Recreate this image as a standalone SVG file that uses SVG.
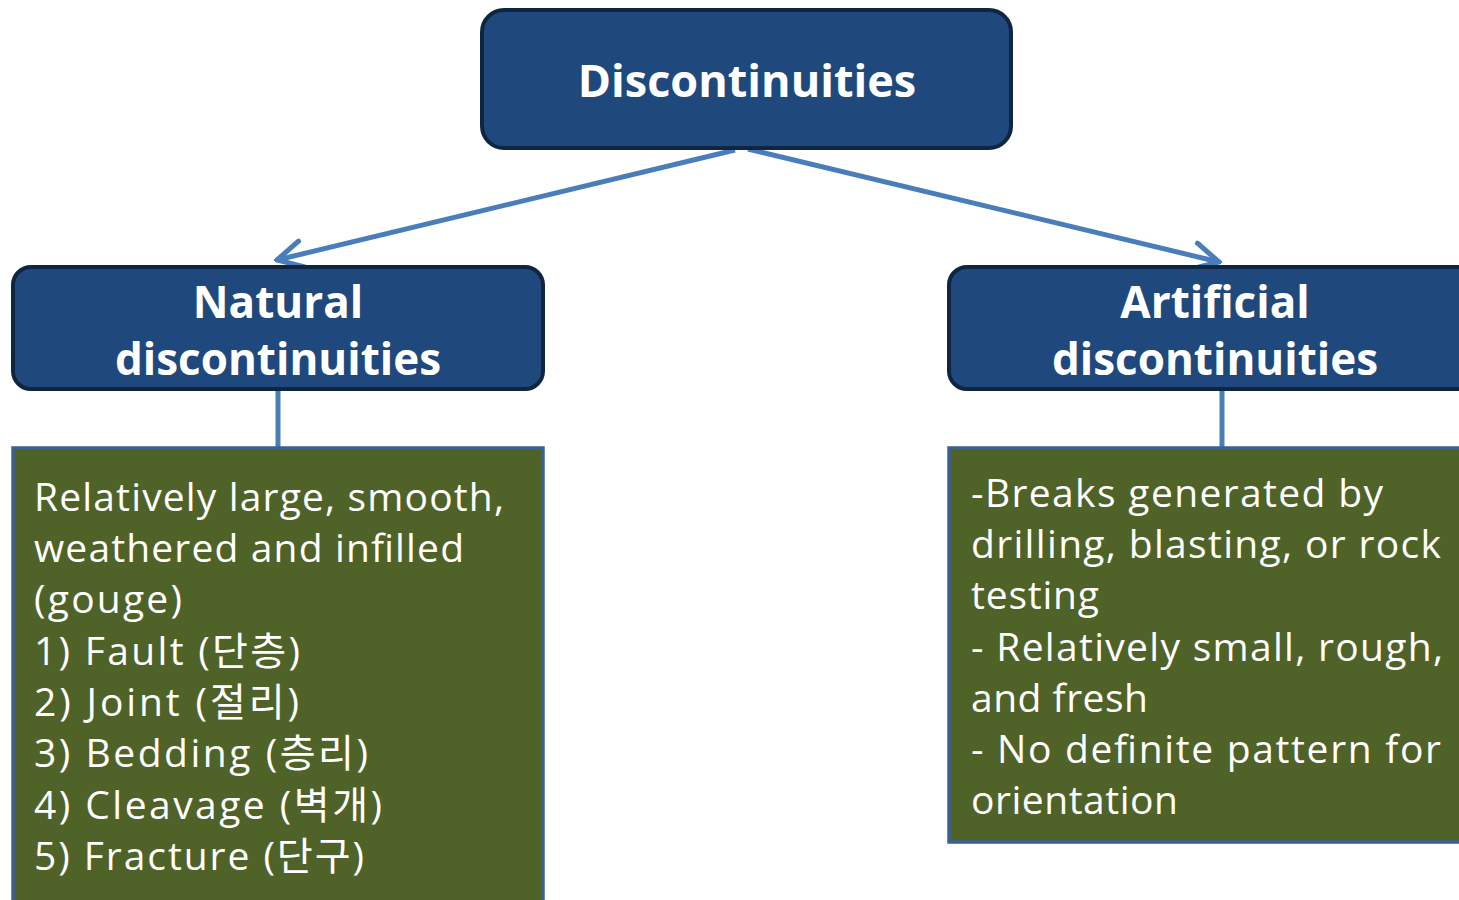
<svg xmlns="http://www.w3.org/2000/svg" width="1459" height="900" viewBox="0 0 1459 900">
<defs>
<style>
.hdr{fill:#1f497d;stroke:#10253f;stroke-width:4}
.body{fill:#4f6228;stroke:#3b6092;stroke-width:3.5}
.ht{font-family:"Open Sans","Noto Sans CJK KR",sans-serif;font-weight:bold;fill:#ffffff;text-anchor:middle}
.bt{font-family:"Open Sans","Noto Sans CJK KR",sans-serif;font-size:39px;fill:#ffffff}
.con{stroke:#4a7ebb;stroke-width:5;fill:none}
</style>
<marker id="arr" viewBox="0 0 12 12" refX="11" refY="6" markerWidth="32" markerHeight="32" markerUnits="userSpaceOnUse" orient="auto">
<path d="M1.5,1 L11,6 L1.5,11" fill="none" stroke="#4a7ebb" stroke-width="1.9" stroke-linecap="round" stroke-linejoin="miter"/>
</marker>
</defs>
<rect width="1459" height="900" fill="#ffffff"/>
<g id="connectors">
<line class="con" x1="735" y1="150" x2="277" y2="260" marker-end="url(#arr)"/>
<line class="con" x1="748" y1="149" x2="1219" y2="262" marker-end="url(#arr)"/>
<line class="con" x1="278" y1="389" x2="278" y2="448"/>
<line class="con" x1="1222" y1="389" x2="1222" y2="448"/>
</g>
<g id="discontinuities">
<rect class="hdr" x="482" y="10" width="529" height="138" rx="22"/>
<text class="ht" x="747" y="97" font-size="45">Discontinuities</text>
</g>
<g id="natural">
<rect class="hdr" x="13" y="267" width="530" height="122" rx="18"/>
<text class="ht" x="278" y="318" font-size="44">Natural</text>
<text class="ht" x="278" y="375" font-size="44">discontinuities</text>
</g>
<g id="artificial">
<rect class="hdr" x="949" y="267" width="530" height="122" rx="18"/>
<text class="ht" x="1215" y="318" font-size="44">Artificial</text>
<text class="ht" x="1215" y="375" font-size="44">discontinuities</text>
</g>
<g id="natural-list">
<rect class="body" x="13" y="448" width="530" height="470"/>
<text class="bt" x="34" y="511" textLength="470" lengthAdjust="spacing">Relatively large, smooth,</text>
<text class="bt" x="34" y="562" textLength="430" lengthAdjust="spacing">weathered and infilled</text>
<text class="bt" x="34" y="613" textLength="148" lengthAdjust="spacing">(gouge)</text>
<text class="bt" x="34" y="665" textLength="266" lengthAdjust="spacing">1) Fault (단층)</text>
<text class="bt" x="34" y="716" textLength="265" lengthAdjust="spacing">2) Joint (절리)</text>
<text class="bt" x="34" y="767" textLength="334" lengthAdjust="spacing">3) Bedding (층리)</text>
<text class="bt" x="34" y="819" textLength="348" lengthAdjust="spacing">4) Cleavage (벽개)</text>
<text class="bt" x="34" y="870" textLength="330" lengthAdjust="spacing">5) Fracture (단구)</text>
</g>
<g id="artificial-list">
<rect class="body" x="949" y="448" width="530" height="394"/>
<text class="bt" x="971" y="507" textLength="412" lengthAdjust="spacing">-Breaks generated by</text>
<text class="bt" x="971" y="558" textLength="470" lengthAdjust="spacing">drilling, blasting, or rock</text>
<text class="bt" x="971" y="609" textLength="128" lengthAdjust="spacing">testing</text>
<text class="bt" x="971" y="661" textLength="472" lengthAdjust="spacing">- Relatively small, rough,</text>
<text class="bt" x="971" y="712" textLength="177" lengthAdjust="spacing">and fresh</text>
<text class="bt" x="971" y="763" textLength="470" lengthAdjust="spacing">- No definite pattern for</text>
<text class="bt" x="971" y="814" textLength="207" lengthAdjust="spacing">orientation</text>
</g>
</svg>
